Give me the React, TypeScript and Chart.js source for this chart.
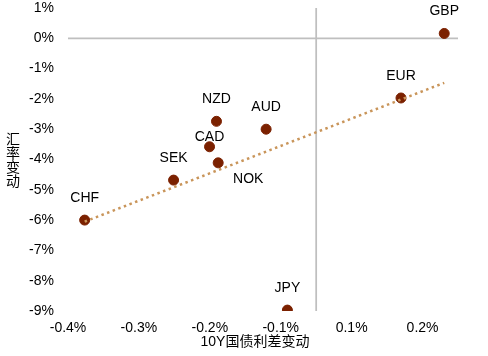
import React, { useEffect, useRef } from 'react';
import { Chart, registerables } from 'chart.js';

Chart.register(...registerables);

const currencies = ['GBP', 'EUR', 'NZD', 'AUD', 'CAD', 'NOK', 'SEK', 'CHF', 'JPY'];
const yieldSpreadChange = [0.1806, 0.1196, -0.1406, -0.0706, -0.1504, -0.1382, -0.2011, -0.3265, -0.0406];
const fxChange = [0.16, -1.97, -2.74, -3.0, -3.58, -4.11, -4.68, -6.0, -8.97];
const trendX = [-0.3265, 0.1806];
const trendY = [-6.05, -1.47];
const xTickValues = [-0.35, -0.25, -0.15, -0.05, 0.05, 0.15];
const xTickLabels = ['-0.4%', '-0.3%', '-0.2%', '-0.1%', '0.1%', '0.2%'];
const yTickValues = [1, 0, -1, -2, -3, -4, -5, -6, -7, -8, -9];
const yTickLabels = ['1%', '0%', '-1%', '-2%', '-3%', '-4%', '-5%', '-6%', '-7%', '-8%', '-9%'];
const xTitle = '10Y国债利差变动';
const yTitle = '汇率变动';

const FONT = '"Liberation Sans", Arial, "Noto Sans CJK SC", sans-serif';

export default function App() {
  const ref = useRef<HTMLCanvasElement | null>(null);

  useEffect(() => {
    document.body.style.margin = '0';
    const canvas = ref.current;
    if (!canvas) return;

    const overlay = {
      id: 'overlay',
      beforeDatasetsDraw(chart: any) {
        const { ctx, chartArea, scales } = chart;
        const x0 = scales.x.getPixelForValue(0);
        const y0 = scales.y.getPixelForValue(0);
        ctx.save();
        ctx.strokeStyle = '#BFBFBF';
        ctx.lineWidth = 1.75;
        ctx.beginPath();
        ctx.moveTo(chartArea.left, y0);
        ctx.lineTo(chartArea.right, y0);
        ctx.moveTo(x0, chartArea.top);
        ctx.lineTo(x0, chartArea.bottom);
        ctx.stroke();
        ctx.restore();
      },
      afterDatasetsDraw(chart: any) {
        const { ctx } = chart;
        const meta = chart.getDatasetMeta(1);
        ctx.save();
        ctx.fillStyle = '#000000';
        ctx.font = `14px ${FONT}`;
        ctx.textAlign = 'center';
        ctx.textBaseline = 'middle';
        meta.data.forEach((pt: any, i: number) => {
          const name = currencies[i];
          if (name === 'NOK') {
            ctx.fillText(name, pt.x + 30, pt.y + 16);
          } else if (name === 'CAD') {
            ctx.fillText(name, pt.x, pt.y - 10);
          } else {
            ctx.fillText(name, pt.x, pt.y - 22);
          }
        });
        // axis titles
        ctx.fillText(xTitle, 255, 342);
        const chars = Array.from(yTitle);
        chars.forEach((c, i) => {
          ctx.fillText(c, 13, 140 + i * 14);
        });
        ctx.restore();
      },
    };

    const chart = new Chart(canvas, {
      type: 'scatter',
      data: {
        datasets: [
          {
            type: 'line',
            label: 'trend',
            data: trendX.map((x, i) => ({ x, y: trendY[i] })),
            borderColor: '#C9955A',
            borderWidth: 2.5,
            borderDash: [2.5, 3.5],
            pointRadius: 0,
            fill: false,
            order: 0,
          } as any,
          {
            label: 'points',
            data: yieldSpreadChange.map((x, i) => ({ x, y: fxChange[i] })),
            backgroundColor: '#7B2100',
            borderColor: '#7B2100',
            pointRadius: 5,
            pointHoverRadius: 5,
            order: 1,
          },
        ],
      },
      options: {
        responsive: false,
        animation: false,
        layout: { padding: { top: 8, right: 30, left: 0, bottom: 0 } },
        plugins: { legend: { display: false }, tooltip: { enabled: false } },
        scales: {
          x: {
            type: 'linear',
            min: -0.35,
            max: 0.2,
            grid: { display: false, drawTicks: false },
            border: { display: false },
            afterBuildTicks: (scale: any) => {
              scale.ticks = xTickValues.map((v) => ({ value: v }));
            },
            afterFit: (scale: any) => {
              scale.height = 45;
              scale.paddingLeft = 0;
              scale.paddingRight = 0;
            },
            ticks: {
              autoSkip: false,
              maxRotation: 0,
              padding: 9,
              color: '#000000',
              font: { family: FONT, size: 14 },
              callback: (_v: any, i: number) => xTickLabels[i],
            },
          },
          y: {
            type: 'linear',
            min: -9,
            max: 1,
            grid: { display: false, drawTicks: false },
            border: { display: false },
            afterBuildTicks: (scale: any) => {
              scale.ticks = yTickValues.map((v) => ({ value: v }));
            },
            afterFit: (scale: any) => {
              scale.width = 68;
              scale.paddingTop = 0;
              scale.paddingBottom = 0;
            },
            ticks: {
              autoSkip: false,
              padding: 14,
              color: '#000000',
              font: { family: FONT, size: 14 },
              callback: (_v: any, i: number) => yTickLabels[i],
            },
          },
        },
      },
      plugins: [overlay],
    });

    return () => chart.destroy();
  }, []);

  return (
    <div style={{ width: 488, height: 356 }}>
      <canvas ref={ref} width={488} height={356} />
    </div>
  );
}
